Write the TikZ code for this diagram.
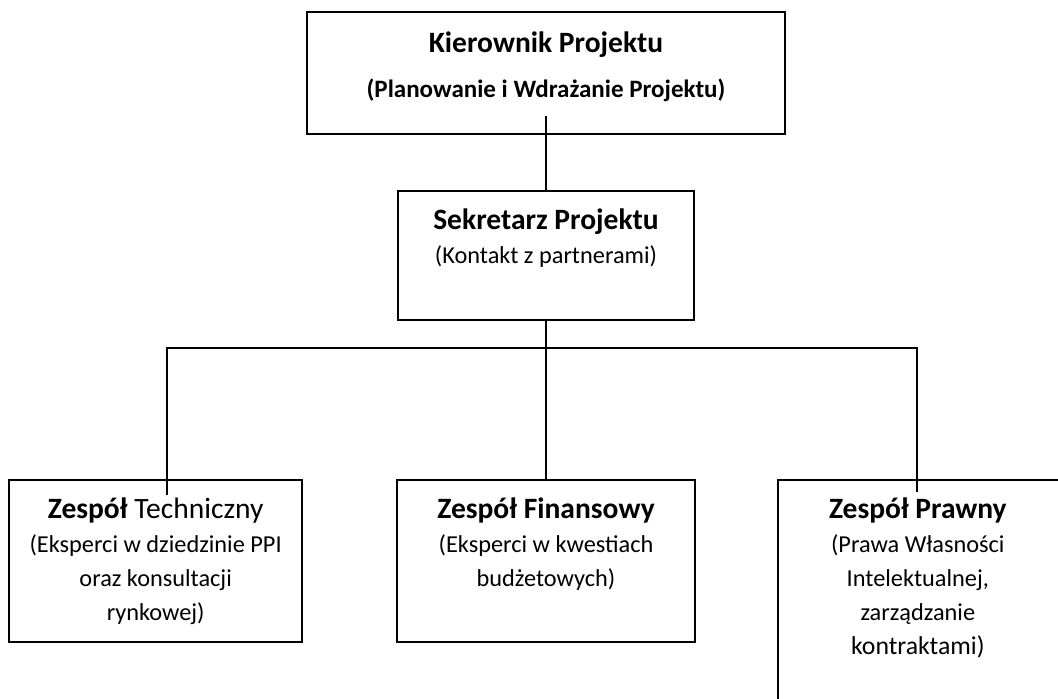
\documentclass[tikz,border=0pt]{standalone}
\usepackage{fontspec}
\setmainfont{Carlito}
\usetikzlibrary{positioning,calc}
\tikzset{
  every node/.style={text=black},
  box/.style={draw,line width=1.3pt,inner sep=0pt},
  head/.style={inner sep=0pt,font=\fontsize{21}{25}\selectfont\bfseries},
  body/.style={inner sep=0pt,align=center,font=\fontsize{17.3}{24.2}\selectfont},
  link/.style={draw,line width=1.3pt}
}
\begin{document}
\begin{tikzpicture}[node distance=1.375cm and 2.325cm]
  \clip (0,0) rectangle (26.45,-17.475);

  % boxes
  \node[box,minimum width=11.95cm,minimum height=3.05cm] (kier) at (13.65,-1.825) {};
  \node[box,minimum width=7.4cm,minimum height=3.225cm,below=of kier] (sekr) {};
  \node[box,minimum width=7.45cm,minimum height=4.05cm,below=3.95cm of sekr] (fin) {};
  \node[box,minimum width=7.325cm,minimum height=4.05cm,left=of fin] (tech) {};
  \node[box,minimum width=7.25cm,minimum height=6.5cm,right=2.025cm of fin.north east,anchor=north west] (praw) {};

  % texts
  \node[head,below=0.52cm of kier.north] (kierHead) {Kierownik Projektu};
  \node[head,font=\fontsize{17.8}{22}\selectfont\bfseries,below=1.7cm of kier.north] (kierBody) {(Planowanie i Wdrażanie Projektu)};
  \node[head,below=0.47cm of sekr.north] (sekrHead) {Sekretarz Projektu};
  \node[body,below=1.4cm of sekr.north] (sekrBody) {(Kontakt z partnerami)};
  \node[head,below=0.47cm of tech.north] (techHead) {Zespół \mdseries Techniczny};
  \node[body,below=1.4cm of tech.north] (techBody) {(Eksperci w dziedzinie PPI\\oraz konsultacji\\rynkowej)};
  \node[head,below=0.47cm of fin.north] (finHead) {Zespół Finansowy};
  \node[body,below=1.4cm of fin.north] (finBody) {(Eksperci w kwestiach\\budżetowych)};
  \node[head,below=0.47cm of praw.north,xshift=-0.125cm] (prawHead) {Zespół Prawny};
  \node[body,below=1.4cm of praw.north,xshift=-0.125cm] (prawBody) {(Prawa Własności\\Intelektualnej,\\zarządzanie\\{\fontsize{18.3}{24.2}\selectfont kontraktami)}};

  % connectors
  \coordinate (kierOut) at ($(kier.south)+(0,0.475)$);
  \coordinate (bus) at ($(sekr.south)+(0,-0.675)$);
  \coordinate (techIn) at ($(tech.north)+(0.2875,-0.4)$);
  \coordinate (prawIn) at ($(praw.north west)+(3.5,-0.325)$);
  \draw[link] (kierOut) -- (sekr.north);
  \draw[link] (sekr.south) -- (bus);
  \draw[link] (techIn) |- (bus) -| (prawIn);
  \draw[link] (bus) -- (bus |- fin.north);
\end{tikzpicture}
\end{document}
